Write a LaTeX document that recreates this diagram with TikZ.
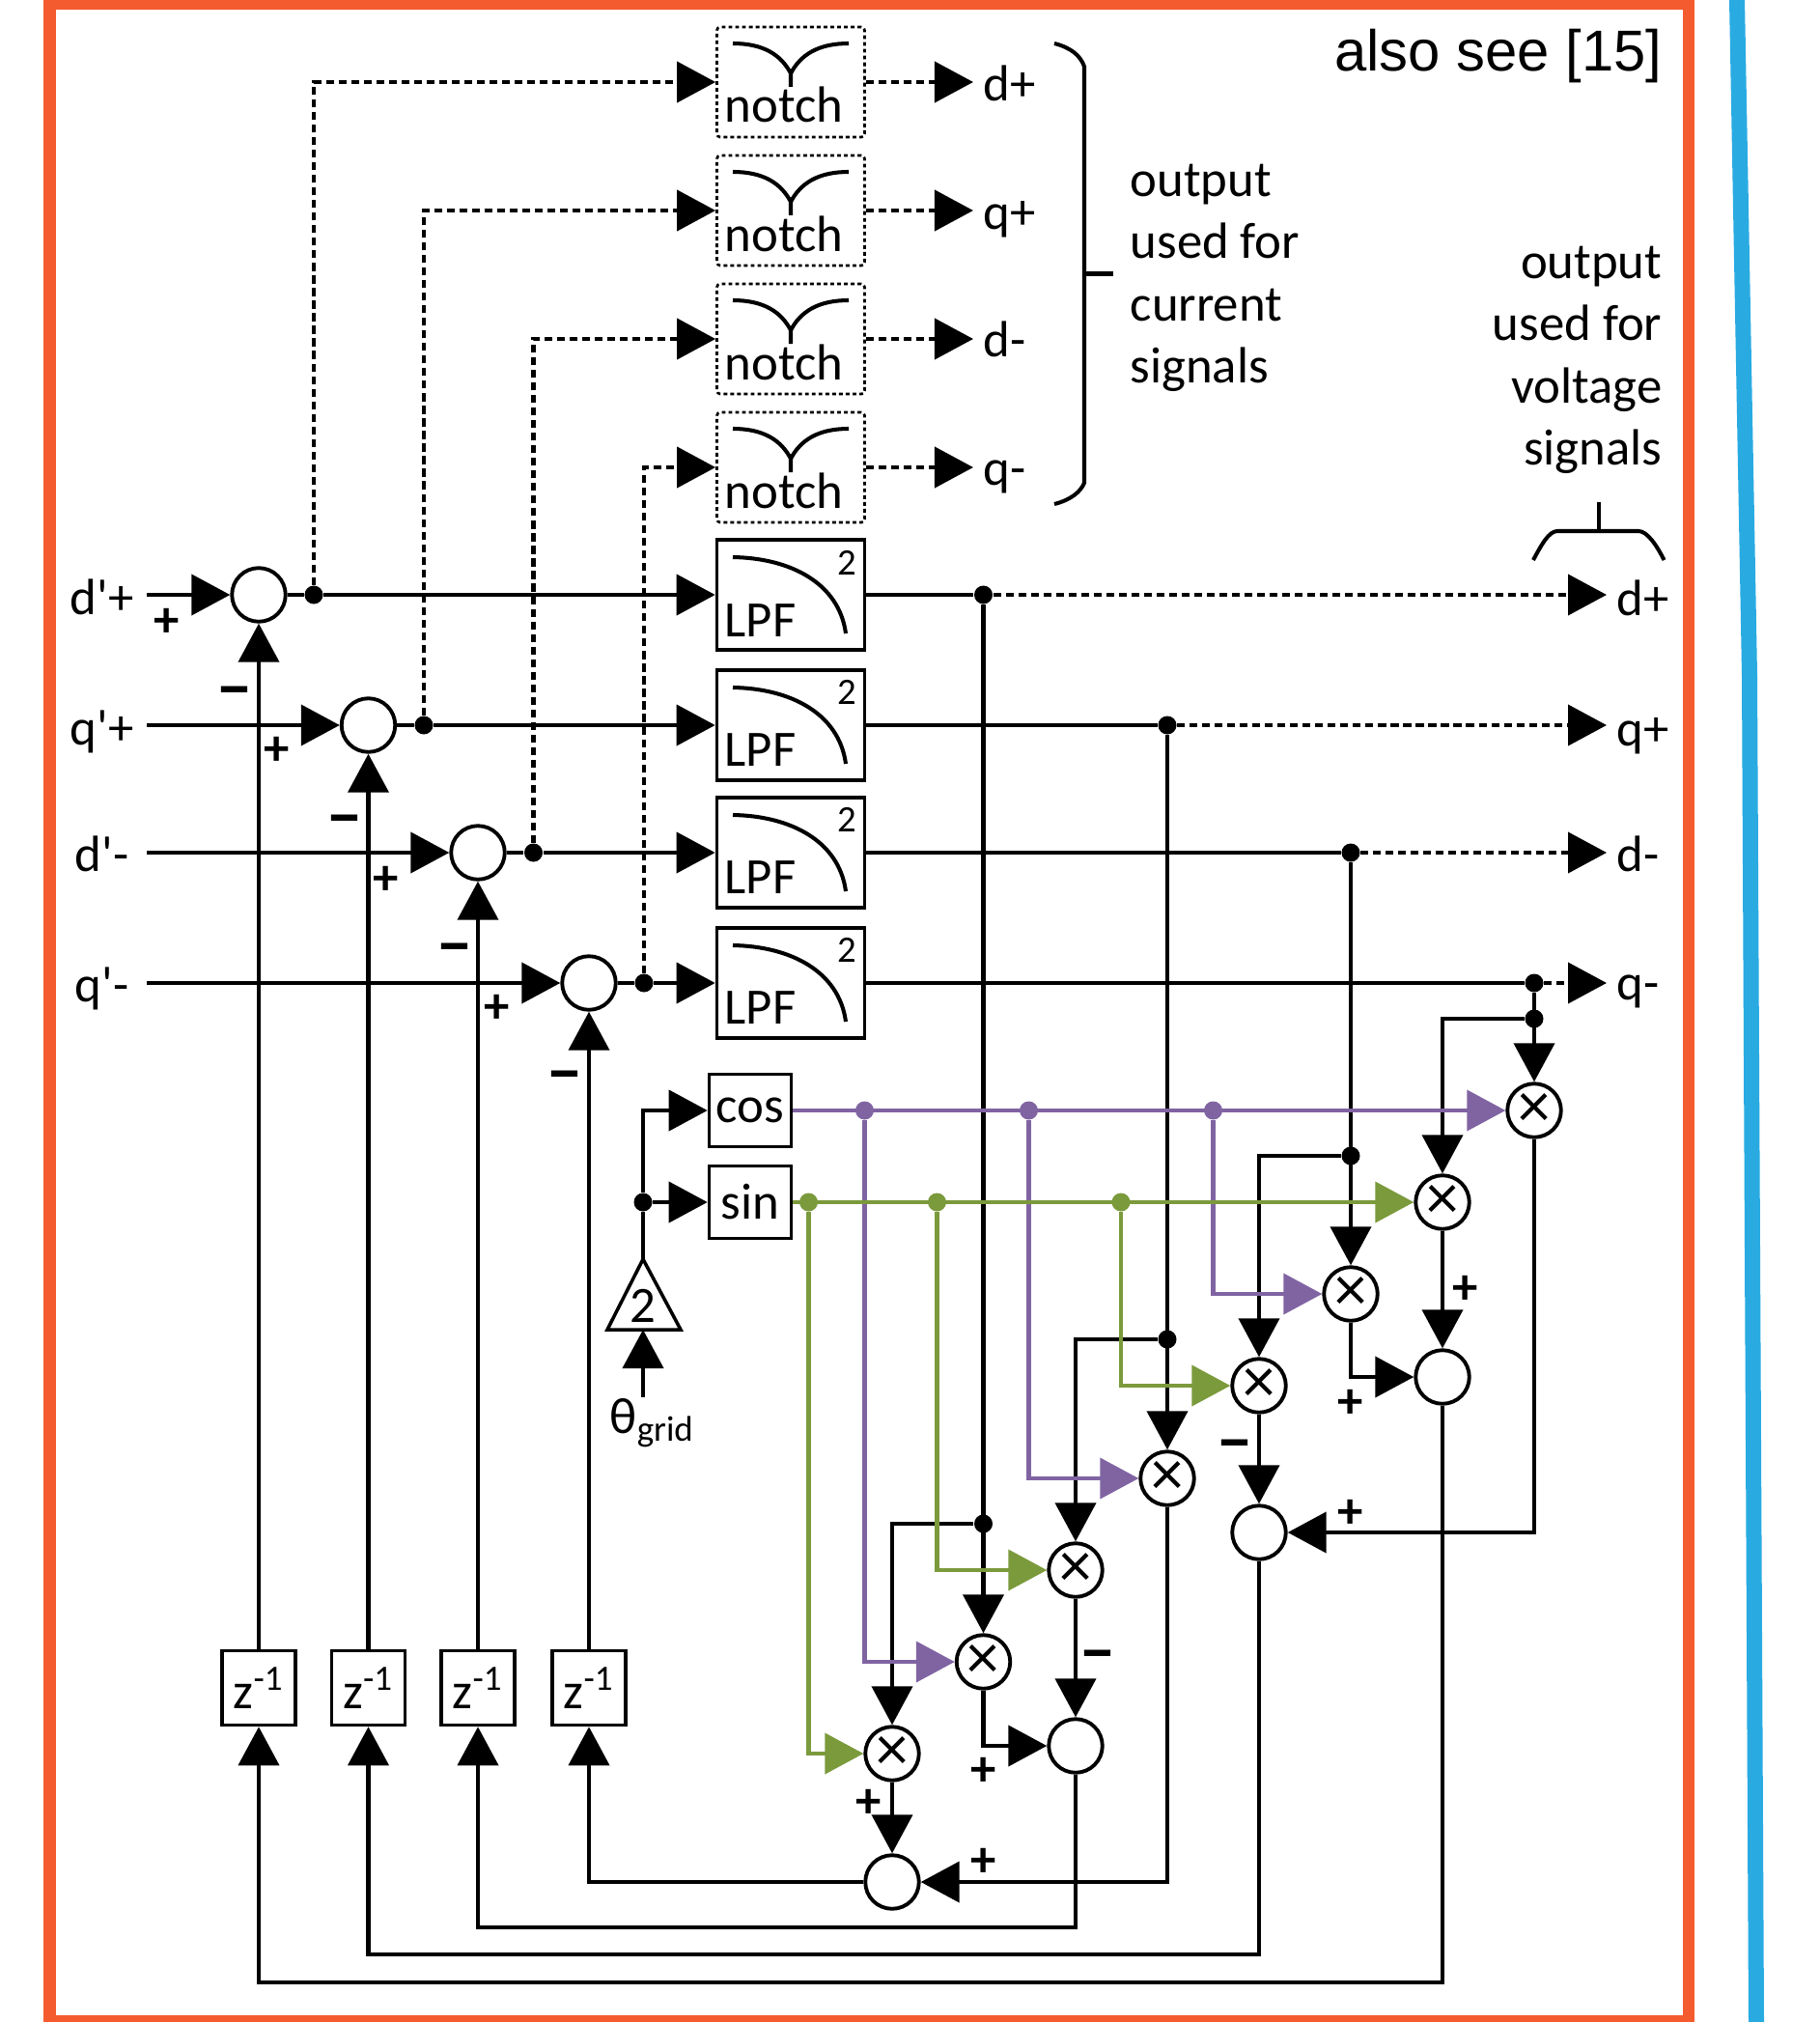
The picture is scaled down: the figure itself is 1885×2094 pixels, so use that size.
\documentclass[tikz,border=0pt]{standalone}
\usepackage{fontspec}
\usepackage{tikz}
\usetikzlibrary{arrows.meta,positioning}
\newfontfamily\carlito{Carlito}
\newfontfamily\arialfont{Liberation Sans}
\definecolor{frameorange}{HTML}{F45B2E}
\definecolor{frameblue}{HTML}{29ABE2}
\definecolor{cospurple}{HTML}{8064A2}
\definecolor{singreen}{HTML}{7B9A3C}
\tikzset{
  sig/.style={line width=1.15pt,-{Triangle[length=.4cm,width=.42cm]}},
  wire/.style={line width=1.15pt},
  dotted line/.style={dash pattern=on 2.3pt off 1.4pt},
  sumnode/.style={circle,draw,line width=1.1pt,fill=white,inner sep=0pt,minimum size=.555cm},
  mulnode/.style={sumnode,font=\carlito\fontsize{19}{19}\selectfont},
  dotnode/.style={circle,fill,inner sep=0pt,minimum size=.19cm},
  lpfbox/.style={draw,line width=1pt,minimum width=1.53cm,minimum height=1.14cm,inner sep=0pt},
  notchbox/.style={lpfbox,line width=.75pt,dash pattern=on 1.1pt off .9pt,rounded corners=1pt},
  smallbox/.style={draw,line width=1pt,minimum width=.85cm,minimum height=.75cm,inner sep=0pt},
  zbox/.style={draw,line width=1pt,minimum width=.76cm,minimum height=.77cm,inner sep=0pt},
  txt/.style={anchor=base west,inner sep=0pt},
  ctxt/.style={anchor=base,inner sep=0pt},
  plussign/.style={inner sep=0pt,font=\carlito\bfseries\fontsize{15}{15}\selectfont},
  minussign/.style={inner sep=0pt,font=\carlito\bfseries\fontsize{20}{20}\selectfont},
}
\newcommand{\notchmark}[1]{\begin{scope}[shift={(#1)}]
\draw[wire] (-60,-40) .. controls (-28,-40) and (-10,-28) .. (0,-9) -- (0,5);
\draw[wire] (60,-40) .. controls (28,-40) and (10,-28) .. (0,-9);
\end{scope}}
\newcommand{\lpfmark}[1]{\begin{scope}[shift={(#1)}]
\draw[wire] (-60,-39) .. controls (0,-38) and (50,-12) .. (57,40);
\end{scope}}
\begin{document}
\begin{tikzpicture}[x=.01cm,y=-.01cm,every node/.style={font=\carlito\fontsize{15}{18.35}\selectfont}]
\path[use as bounding box,clip] (0,0) rectangle (1885,2094);
\draw[frameorange,line width=.12cm] (51.5,4) rectangle (1749,2093);
\draw[frameblue,line width=.16cm] (1799,0)--(1812,700)--(1819,2094);
\node[anchor=base east,inner sep=0pt,font=\arialfont\fontsize{17}{20}\selectfont] (seeref) at (1722,74) {also see [15]};
\node[notchbox] (notch1) at (819,85) {};
\node[notchbox] (notch2) at (819,218) {};
\node[notchbox] (notch3) at (819,351) {};
\node[notchbox] (notch4) at (819,484) {};
\notchmark{notch1}\notchmark{notch2}\notchmark{notch3}\notchmark{notch4}
\node[txt] (notchtxt1) at (750,127) {notch};
\node[txt] (notchtxt2) at (750,260) {notch};
\node[txt] (notchtxt3) at (750,393) {notch};
\node[txt] (notchtxt4) at (750,526) {notch};
\node[lpfbox] (lpf1) at (819,616) {};
\node[lpfbox] (lpf2) at (819,751) {};
\node[lpfbox] (lpf3) at (819,883) {};
\node[lpfbox] (lpf4) at (819,1018) {};
\lpfmark{lpf1}\lpfmark{lpf2}\lpfmark{lpf3}\lpfmark{lpf4}
\node[txt] (lpftxt1) at (750,659) {LPF};
\node[txt] (lpftxt2) at (750,793) {LPF};
\node[txt] (lpftxt3) at (750,925) {LPF};
\node[txt] (lpftxt4) at (750,1060) {LPF};
\node[inner sep=0pt,font=\carlito\fontsize{11}{11}\selectfont] (ord1) at (877,583) {2};
\node[inner sep=0pt,font=\carlito\fontsize{11}{11}\selectfont] (ord2) at (877,717) {2};
\node[inner sep=0pt,font=\carlito\fontsize{11}{11}\selectfont] (ord3) at (877,849) {2};
\node[inner sep=0pt,font=\carlito\fontsize{11}{11}\selectfont] (ord4) at (877,984) {2};
\node[ctxt] (ind) at (105.5,636) {d'+};
\node[ctxt] (inq) at (105.5,771) {q'+};
\node[ctxt] (inm) at (105.5,902) {d'-};
\node[ctxt] (inr) at (105.5,1037) {q'-};
\coordinate (in1) at (152,616);
\coordinate (in2) at (152,751);
\coordinate (in3) at (152,883);
\coordinate (in4) at (152,1018);
\node[sumnode] (sum1) at (268,616) {};
\node[sumnode] (sum2) at (381.5,751) {};
\node[sumnode] (sum3) at (495,883) {};
\node[sumnode] (sum4) at (610,1018) {};
\node[dotnode] (tap1) at (325,616) {};
\node[dotnode] (tap2) at (439,751) {};
\node[dotnode] (tap3) at (552.5,883) {};
\node[dotnode] (tap4) at (667,1018) {};
\node[plussign] (pa1) at (173,645) {+};
\node[plussign] (pa2) at (286.5,778) {+};
\node[plussign] (pa3) at (400,912) {+};
\node[plussign] (pa4) at (515,1045) {+};
\node[minussign] (ma1) at (243,724) {−};
\node[minussign] (ma2) at (357,857) {−};
\node[minussign] (ma3) at (471,990) {−};
\node[minussign] (ma4) at (585,1122) {−};
\node[zbox] (z1) at (268,1748) {z\textsuperscript{-1}};
\node[zbox] (z2) at (381.5,1748) {z\textsuperscript{-1}};
\node[zbox] (z3) at (495,1748) {z\textsuperscript{-1}};
\node[zbox] (z4) at (610,1748) {z\textsuperscript{-1}};
\node[txt] (outa) at (1018,105) {d+};
\node[txt] (outb) at (1018,238) {q+};
\node[txt] (outc) at (1018,369) {d-};
\node[txt] (outd) at (1018,502) {q-};
\coordinate (enda) at (1008,85);
\coordinate (endb) at (1008,218);
\coordinate (endc) at (1008,351);
\coordinate (endd) at (1008,484);
\node[txt] (vouta) at (1674,637) {d+};
\node[txt] (voutb) at (1674,772) {q+};
\node[txt] (voutc) at (1674,902) {d-};
\node[txt] (voutd) at (1674,1035) {q-};
\coordinate (vend1) at (1664,616);
\coordinate (vend2) at (1664,751);
\coordinate (vend3) at (1664,883);
\coordinate (vend4) at (1664,1018);
\node[anchor=west,align=left,inner sep=0pt] (curnote) at (1170,288) {output\\used for\\current\\signals};
\node[anchor=east,align=right,inner sep=0pt] (volnote) at (1722,373) {output\\used for\\voltage\\signals};
\draw[wire] (1092,45) .. controls (1108,49) and (1119,57) .. (1123,69) -- (1123,500) .. controls (1119,510) and (1108,518) .. (1092,522);
\draw[wire] (1123,283.5) -- (1153,283.5);
\draw[wire] (1588,580) .. controls (1596,565) and (1604,550) .. (1613,550) -- (1697,550) .. controls (1706,550) and (1716,565) .. (1723.5,580);
\draw[wire] (1656,520) -- (1656,550);
\node[smallbox] (cosbox) at (777,1150) {cos};
\node[smallbox] (sinbox) at (777,1245) {sin};
\coordinate (gaintop) at (666,1304);
\coordinate (gainbot) at (666,1377);
\draw[line width=1pt] (gaintop) -- (705,1377) -- (629,1377) -- cycle;
\node[inner sep=0pt] (gaintxt) at (666,1352) {2};
\node[dotnode] (gaintap) at (666,1245) {};
\coordinate (thetaend) at (666,1447);
\node[txt] (thetatxt) at (631,1484) {θ\textsubscript{grid}};
\node[dotnode] (rowdot1) at (1018.5,616) {};
\node[dotnode] (rowdot2) at (1209,751) {};
\node[dotnode] (rowdot3) at (1399,883) {};
\node[dotnode] (rowdot4) at (1589,1018) {};
\node[dotnode] (subdot1) at (1018.5,1578) {};
\node[dotnode] (subdot2) at (1209,1387) {};
\node[dotnode] (subdot3) at (1399,1197) {};
\node[dotnode] (subdot4) at (1589,1055) {};
\node[mulnode] (mul1) at (1589,1150) {×};
\node[mulnode] (mul2) at (1494,1245) {×};
\node[mulnode] (mul3) at (1399,1340) {×};
\node[mulnode] (mul4) at (1304,1435) {×};
\node[mulnode] (mul5) at (1209,1531) {×};
\node[mulnode] (mul6) at (1114,1626) {×};
\node[mulnode] (mul7) at (1018.5,1721) {×};
\node[mulnode] (mul8) at (924,1816) {×};
\node[sumnode] (suma) at (1494,1426) {};
\node[sumnode] (sumb) at (1304,1587) {};
\node[sumnode] (sumc) at (1114,1808) {};
\node[sumnode] (sumd) at (924,1949) {};
\node[plussign] (pb1) at (1399,1568) {+};
\node[plussign] (pb2) at (1518,1336) {+};
\node[plussign] (pb3) at (1399,1454) {+};
\node[minussign] (mb4) at (1279,1504) {−};
\node[plussign] (pc1) at (1019,1929) {+};
\node[minussign] (mc2) at (1137,1722) {−};
\node[plussign] (pc3) at (1019,1835) {+};
\node[plussign] (pc4) at (900,1868) {+};
\draw[sig] (in1) -- (sum1);
\draw[sig] (in2) -- (sum2);
\draw[sig] (in3) -- (sum3);
\draw[sig] (in4) -- (sum4);
\draw[wire] (sum1) -- (tap1);
\draw[wire] (sum2) -- (tap2);
\draw[wire] (sum3) -- (tap3);
\draw[wire] (sum4) -- (tap4);
\draw[sig] (tap1) -- (lpf1);
\draw[sig] (tap2) -- (lpf2);
\draw[sig] (tap3) -- (lpf3);
\draw[sig] (tap4) -- (lpf4);
\draw[sig,dotted line] (tap1) |- (notch1);
\draw[sig,dotted line] (tap2) |- (notch2);
\draw[sig,dotted line] (tap3) |- (notch3);
\draw[sig,dotted line] (tap4) |- (notch4);
\draw[sig,dotted line] (notch1) -- (enda);
\draw[sig,dotted line] (notch2) -- (endb);
\draw[sig,dotted line] (notch3) -- (endc);
\draw[sig,dotted line] (notch4) -- (endd);
\draw[wire] (lpf1) -- (rowdot1);
\draw[wire] (lpf2) -- (rowdot2);
\draw[wire] (lpf3) -- (rowdot3);
\draw[wire] (lpf4) -- (rowdot4);
\draw[sig,dotted line] (rowdot1) -- (vend1);
\draw[sig,dotted line] (rowdot2) -- (vend2);
\draw[sig,dotted line] (rowdot3) -- (vend3);
\draw[sig,dotted line] (rowdot4) -- (vend4);
\draw[sig] (z1) -- (sum1);
\draw[sig] (z2) -- (sum2);
\draw[sig] (z3) -- (sum3);
\draw[sig] (z4) -- (sum4);
\draw[sig] (rowdot1) -- (mul7);
\draw[sig] (rowdot2) -- (mul5);
\draw[sig] (rowdot3) -- (mul3);
\draw[sig] (rowdot4) -- (mul1);
\draw[sig] (subdot1) -| (mul8);
\draw[sig] (subdot2) -| (mul6);
\draw[sig] (subdot3) -| (mul4);
\draw[sig] (subdot4) -| (mul2);
\draw[sig] (mul1) |- (sumb);
\draw[sig] (mul2) -- (suma);
\draw[sig] (mul3) |- (suma);
\draw[sig] (mul4) -- (sumb);
\draw[sig] (mul5) |- (sumd);
\draw[sig] (mul6) -- (sumc);
\draw[sig] (mul7) |- (sumc);
\draw[sig] (mul8) -- (sumd);
\coordinate (bus1) at (1494,2053);
\coordinate (bus2) at (1304,2024);
\coordinate (bus3) at (1114,1996);
\draw[sig] (suma) -- (bus1) -| (z1);
\draw[sig] (sumb) -- (bus2) -| (z2);
\draw[sig] (sumc) -- (bus3) -| (z3);
\draw[sig] (sumd) -| (z4);
\draw[wire] (gaintop) -- (gaintap);
\draw[sig] (gaintap) |- (cosbox);
\draw[sig] (gaintap) -- (sinbox);
\draw[sig] (thetaend) -- (gainbot);
\node[dotnode,cospurple] (cdot1) at (895.5,1150) {};
\node[dotnode,cospurple] (cdot2) at (1065.5,1150) {};
\node[dotnode,cospurple] (cdot3) at (1256.5,1150) {};
\node[dotnode,singreen] (sdot1) at (837.5,1245) {};
\node[dotnode,singreen] (sdot2) at (970.5,1245) {};
\node[dotnode,singreen] (sdot3) at (1161,1245) {};
\draw[sig,cospurple] (cosbox) -- (mul1);
\draw[sig,cospurple] (cdot1) |- (mul7);
\draw[sig,cospurple] (cdot2) |- (mul5);
\draw[sig,cospurple] (cdot3) |- (mul3);
\draw[sig,singreen] (sinbox) -- (mul2);
\draw[sig,singreen] (sdot1) |- (mul8);
\draw[sig,singreen] (sdot2) |- (mul6);
\draw[sig,singreen] (sdot3) |- (mul4);
\end{tikzpicture}
\end{document}
